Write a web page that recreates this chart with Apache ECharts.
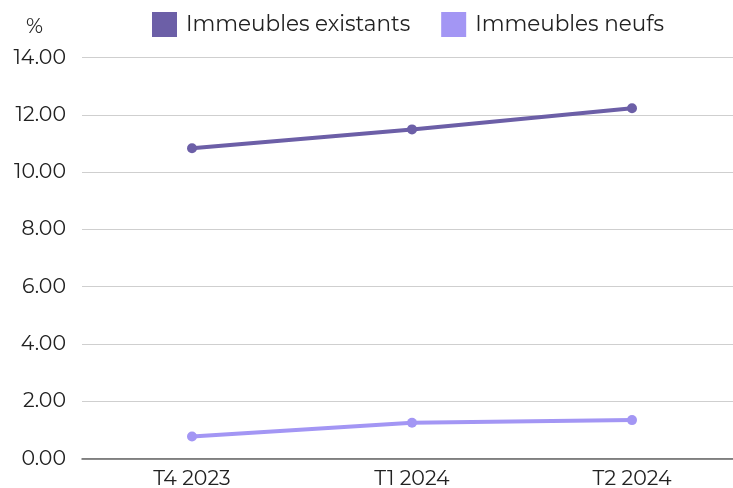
<!DOCTYPE html>
<html><head><meta charset="utf-8">
<script src="https://cdn.jsdelivr.net/npm/echarts@6/dist/echarts.min.js"></script>
<style>html,body{margin:0;padding:0;background:#fff}#c{width:733px;height:488px}</style>
</head><body><div id="c"></div>
<script>
const categories = ["T4 2023", "T1 2024", "T2 2024"];
const seriesNames = ["Immeubles existants", "Immeubles neufs"];
const existants = [10.83, 11.49, 12.23];
const neufs = [0.77, 1.25, 1.34];
const yTicks = [0, 2, 4, 6, 8, 10, 12, 14];
const font = "Montserrat, 'Noto Sans', Lato, sans-serif";
const chart = echarts.init(document.getElementById('c'));
chart.setOption({
  animation: false,
  textStyle: { fontFamily: font },
  color: ["#6c5fa7", "#a396f4"],
  legend: {
    top: 7, left: 147,
    itemWidth: 25, itemHeight: 25, itemGap: 31,
    icon: 'rect',
    textStyle: { fontSize: 21.5, color: '#222', fontFamily: font, padding: [0, 0, 0, 4] },
    data: seriesNames
  },
  grid: { left: 82, width: 660, top: 57.5, bottom: 29.5, outerBoundsMode: 'none', containLabel: false },
  xAxis: {
    type: 'category', data: categories, boundaryGap: true,
    axisLine: { lineStyle: { color: '#666', width: 1.5 } },
    axisTick: { show: false },
    axisLabel: { fontSize: 20.5, color: '#222', margin: 10, fontFamily: font }
  },
  yAxis: {
    type: 'value', min: yTicks[0], max: yTicks[yTicks.length - 1], interval: 2,
    name: '%', nameLocation: 'end', nameGap: 20,
    nameTextStyle: { fontSize: 20.5, color: '#222', align: 'right', padding: [0, 39, 0, 0], fontFamily: font },
    axisLine: { show: false }, axisTick: { show: false },
    splitLine: { lineStyle: { color: '#cfcfcf', width: 1 } },
    axisLabel: { fontSize: 20.5, color: '#222', margin: 16, formatter: v => v.toFixed(2), fontFamily: font }
  },
  series: [
    { name: seriesNames[0], type: 'line', data: existants, symbol: 'circle', symbolSize: 10, lineStyle: { width: 4 } },
    { name: seriesNames[1], type: 'line', data: neufs, symbol: 'circle', symbolSize: 10, lineStyle: { width: 4 } }
  ]
});
</script></body></html>
